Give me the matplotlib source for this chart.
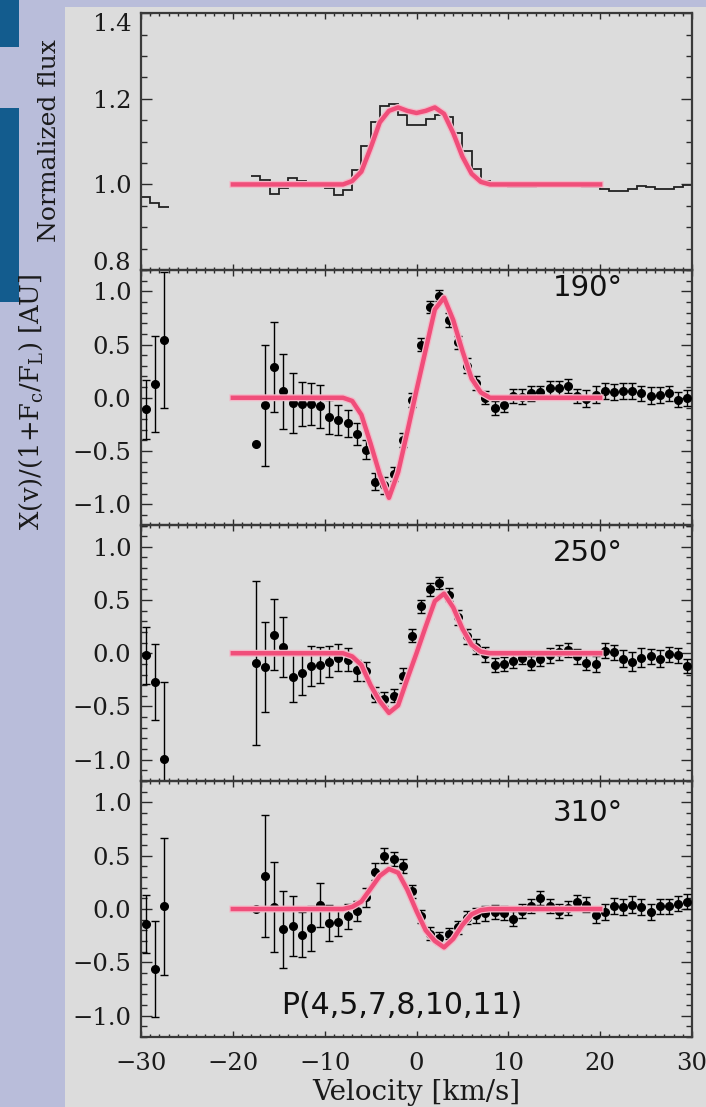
import numpy as np
import matplotlib
matplotlib.use("Agg")
import matplotlib.pyplot as plt
from matplotlib.patches import Rectangle
from matplotlib.ticker import MultipleLocator

plt.rcParams['mathtext.fontset'] = 'dejavuserif'

# ---------------- data ----------------
# velocity bins [km/s] (two separate chunks of spectrum)
vel_left = [-29.5, -28.5, -27.5]
vel_main = [-17.5, -16.5, -15.5, -14.5, -13.5, -12.5, -11.5, -10.5, -9.5, -8.5,
            -7.5, -6.5, -5.5, -4.5, -3.5, -2.5, -1.5, -0.5, 0.5, 1.5,
            2.5, 3.5, 4.5, 5.5, 6.5, 7.5, 8.5, 9.5, 10.5, 11.5,
            12.5, 13.5, 14.5, 15.5, 16.5, 17.5, 18.5, 19.5, 20.5, 21.5,
            22.5, 23.5, 24.5, 25.5, 26.5, 27.5, 28.5, 29.5]
vel_all = vel_left + vel_main

# normalized flux (histogram)
flux_left = [0.970, 0.957, 0.947]
flux_main = [1.019, 1.010, 0.977, 0.992, 1.014, 1.008, 1.003, 0.996, 0.991, 0.975,
             0.988, 1.033, 1.089, 1.146, 1.184, 1.188, 1.163, 1.140, 1.140, 1.153,
             1.163, 1.157, 1.120, 1.077, 1.037, 1.009, 0.997, 0.997, 0.995, 0.994,
             0.995, 0.996, 0.996, 0.997, 0.997, 0.996, 0.995, 0.994, 0.990, 0.985,
             0.985, 0.990, 0.996, 0.995, 0.989, 0.990, 0.995, 0.998]

# model curves
vel_model = [-20, -8, -7, -6, -5, -4, -3, -2, -1, 0, 1, 2, 3, 4, 5, 6, 7, 8, 20]
flux_model = [1.0, 1.0, 1.008, 1.03, 1.085, 1.145, 1.172, 1.18, 1.172, 1.167,
              1.172, 1.18, 1.165, 1.12, 1.065, 1.025, 1.006, 1.0, 1.0]
model_190 = [0.0, 0.0, -0.03, -0.16, -0.43, -0.72, -0.94, -0.70, -0.32, 0.07,
             0.45, 0.83, 0.94, 0.73, 0.44, 0.18, 0.05, 0.0, 0.0]
model_250 = [0.0, 0.0, -0.03, -0.11, -0.30, -0.45, -0.56, -0.49, -0.24, 0.0,
             0.25, 0.49, 0.56, 0.43, 0.23, 0.08, 0.015, 0.0, 0.0]
model_310 = [0.0, 0.0, 0.02, 0.07, 0.19, 0.31, 0.375, 0.34, 0.18, -0.02,
             -0.20, -0.30, -0.36, -0.28, -0.15, -0.05, -0.01, 0.0, 0.0]

# spectro-astrometric signal and errors at the three position angles
sig_190 = [-0.11, 0.13, 0.54,
           -0.43, -0.07, 0.29, 0.06, -0.05, -0.06, -0.06, -0.08, -0.18, -0.21,
           -0.24, -0.34, -0.49, -0.79, -0.82, -0.72, -0.40, -0.02, 0.50, 0.85,
           0.96, 0.73, 0.52, 0.30, 0.14, 0.0, -0.10, -0.07, 0.02, 0.01,
           0.04, 0.05, 0.09, 0.09, 0.11, 0.02, -0.01, 0.03, 0.06, 0.05,
           0.06, 0.06, 0.04, 0.02, 0.03, 0.04, -0.02, 0.0]
err_190 = [0.28, 0.45, 0.64,
           np.nan, 0.57, 0.42, 0.35, 0.28, 0.21, 0.20, 0.20, 0.16, 0.14,
           0.125, 0.10, 0.09, 0.08, 0.08, 0.065, 0.065, 0.065, 0.065, 0.055,
           0.055, 0.065, 0.06, 0.07, 0.065, 0.06, 0.065, 0.065, 0.065, 0.07,
           0.07, 0.065, 0.07, 0.07, 0.07, 0.065, 0.08, 0.08, 0.075, 0.075,
           0.075, 0.075, 0.075, 0.08, 0.075, 0.07, 0.07, 0.075]
sig_250 = [-0.02, -0.27, -0.99,
           -0.09, -0.13, 0.175, 0.06, -0.22, -0.19, -0.12, -0.11, -0.08, -0.04,
           -0.06, -0.16, -0.17, -0.39, -0.43, -0.40, -0.21, 0.165, 0.44, 0.60,
           0.66, 0.55, 0.34, 0.16, 0.06, -0.01, -0.11, -0.10, -0.07, -0.04,
           -0.09, -0.05, -0.02, 0.01, 0.03, -0.03, -0.09, -0.10, 0.025, 0.01,
           -0.05, -0.08, -0.04, -0.03, -0.05, -0.01, -0.02, -0.12]
err_250 = [0.27, 0.36, 0.72,
           0.77, 0.425, 0.33, 0.28, 0.24, 0.20, 0.19, 0.17, 0.145, 0.125,
           0.11, 0.10, 0.09, 0.07, 0.062, 0.062, 0.07, 0.062, 0.062, 0.058,
           0.055, 0.062, 0.07, 0.07, 0.07, 0.07, 0.067, 0.069, 0.069, 0.064,
           0.067, 0.067, 0.067, 0.069, 0.062, 0.067, 0.07, 0.075, 0.069, 0.072,
           0.078, 0.09, 0.086, 0.073, 0.078, 0.07, 0.073, 0.07]
sig_310 = [-0.14, -0.56, 0.025,
           0.0, 0.31, 0.02, -0.19, -0.16, -0.24, -0.18, 0.04, -0.13, -0.12,
           -0.07, -0.02, 0.11, 0.35, 0.50, 0.47, 0.40, 0.165, -0.07, -0.23,
           -0.27, -0.23, -0.17, -0.08, -0.06, -0.04, -0.03, -0.04, -0.09, -0.02,
           0.03, 0.10, 0.03, -0.02, 0.01, 0.065, 0.04, -0.06, -0.03, 0.03,
           0.02, 0.04, 0.02, -0.03, 0.025, 0.025, 0.05, 0.07]
err_310 = [0.27, 0.45, 0.64,
           np.nan, 0.575, 0.42, 0.36, 0.28, 0.214, 0.21, 0.206, 0.17, 0.1375,
           0.114, 0.094, 0.089, 0.078, 0.07, 0.066, 0.066, 0.062, 0.062, 0.058,
           0.055, 0.055, 0.062, 0.061, 0.067, 0.069, 0.067, 0.067, 0.067, 0.069,
           0.067, 0.066, 0.067, 0.069, 0.066, 0.07, 0.072, 0.073, 0.073, 0.073,
           0.077, 0.078, 0.077, 0.077, 0.072, 0.072, 0.073, 0.07]

angles = ['190°', '250°', '310°']
signals = [sig_190, sig_250, sig_310]
errors = [err_190, err_250, err_310]
models = [model_190, model_250, model_310]
angle_ypos = [0.93, 0.892, 0.875]   # where the PA label sits in each panel

# ---------------- figure ----------------
W, H = 706, 1107
fig = plt.figure(figsize=(W / 100, H / 100), dpi=100, facecolor='#b9bdda')

# slide background pieces (behind the axes)
fig.patches.append(Rectangle((65 / W, 0), 1 - 65 / W, 1 - 7 / H, transform=fig.transFigure,
                             facecolor='#dcdcdc', edgecolor='none', zorder=-5))
fig.patches.append(Rectangle((0, 1 - 47 / H), 19 / W, 47 / H, transform=fig.transFigure,
                             facecolor='#135c8e', edgecolor='none', zorder=-5))
fig.patches.append(Rectangle((0, 1 - 302 / H), 19 / W, 194 / H, transform=fig.transFigure,
                             facecolor='#135c8e', edgecolor='none', zorder=-5))

edges_px = [13.3, 270, 525.5, 781, 1037]
left, width = 141 / W, 551 / W
axes = []
for i in range(4):
    b = 1 - edges_px[i + 1] / H
    h = (edges_px[i + 1] - edges_px[i]) / H
    ax = fig.add_axes([left, b, width, h])
    ax.set_facecolor('none')
    axes.append(ax)

pink = '#f04e7a'
halo = '#f3b9c8'

# top panel: line profile
ax = axes[0]
ax.set_ylim(0.8, 1.4)
ax.yaxis.set_major_locator(MultipleLocator(0.2))
ax.yaxis.set_minor_locator(MultipleLocator(0.05))
e_left = np.append(np.array(vel_left) - 0.5, vel_left[-1] + 0.5)
e_main = np.append(np.array(vel_main) - 0.5, vel_main[-1] + 0.5)
ax.stairs(flux_left, e_left, baseline=None, color='#222222', lw=1.3)
ax.stairs(flux_main, e_main, baseline=None, color='#222222', lw=1.3)
ax.plot(vel_model, flux_model, color=halo, lw=5, solid_joinstyle='round', zorder=4)
ax.plot(vel_model, flux_model, color=pink, lw=3.2, solid_joinstyle='round', zorder=5)

# spectro-astrometry panels
for ax, sig, err, mod, ang, ay in zip(axes[1:], signals, errors, models, angles, angle_ypos):
    ax.set_ylim(-1.2, 1.2)
    ax.yaxis.set_major_locator(MultipleLocator(0.5))
    ax.yaxis.set_minor_locator(MultipleLocator(0.1))
    ax.errorbar(vel_all, sig, yerr=err, fmt='o', color='black', ms=5.5,
                elinewidth=1.0, capsize=3, capthick=1.0, zorder=3)
    ax.plot(vel_model, mod, color=halo, lw=5, solid_joinstyle='round', zorder=4)
    ax.plot(vel_model, mod, color=pink, lw=3.2, solid_joinstyle='round', zorder=5)
    ax.text(0.875, ay, ang, transform=ax.transAxes, ha='right', va='center',
            fontsize=21, family='DejaVu Sans', color='#111111')

for i, ax in enumerate(axes):
    ax.set_xlim(-30, 30)
    ax.xaxis.set_major_locator(MultipleLocator(10))
    ax.xaxis.set_minor_locator(MultipleLocator(1))
    for s in ax.spines.values():
        s.set_linewidth(1.6)
        s.set_color('#3a3a3a')
    ax.tick_params(which='both', direction='in', top=True, right=True,
                   color='#2a2a2a', width=1.0, labelsize=17.5, labelcolor='#1a1a1a')
    ax.tick_params(axis='x', which='major', length=4.5, pad=11,
                   labelbottom=(i == 3))
    ax.tick_params(axis='x', which='minor', length=2.2)
    ax.tick_params(axis='y', which='major', length=8, pad=7)
    ax.tick_params(axis='y', which='minor', length=4)
    for lab in ax.get_xticklabels() + ax.get_yticklabels():
        lab.set_fontfamily('DejaVu Serif')

axes[3].text(0.473, 0.125, 'P(4,5,7,8,10,11)', transform=axes[3].transAxes,
             ha='center', va='center', fontsize=21.5, family='DejaVu Sans', color='#111111')

fig.text(416.5 / W, 1 - 1092 / H, 'Velocity [km/s]', ha='center', va='center',
         family='DejaVu Serif', fontsize=20, color='#1a1a1a')
fig.text(50 / W, 1 - 141 / H, 'Normalized flux', rotation=90, ha='center', va='center',
         family='DejaVu Serif', fontsize=18, color='#1a1a1a')
fig.text(31 / W, 1 - 402 / H, r'X(v)/(1+$\mathrm{F_c}$/$\mathrm{F_L}$) [AU]', rotation=90,
         ha='center', va='center', family='DejaVu Serif', fontsize=18.5, color='#1a1a1a')

# end labels of the top panel sit inside the axis range (as IDL draws them)
fig.canvas.draw()
for tick in axes[0].yaxis.get_major_ticks():
    if abs(tick.get_loc() - 1.4) < 1e-6:
        tick.label1.set_va('top')
    elif abs(tick.get_loc() - 0.8) < 1e-6:
        tick.label1.set_va('baseline')

fig.savefig('out.png', dpi=100, facecolor=fig.get_facecolor())
